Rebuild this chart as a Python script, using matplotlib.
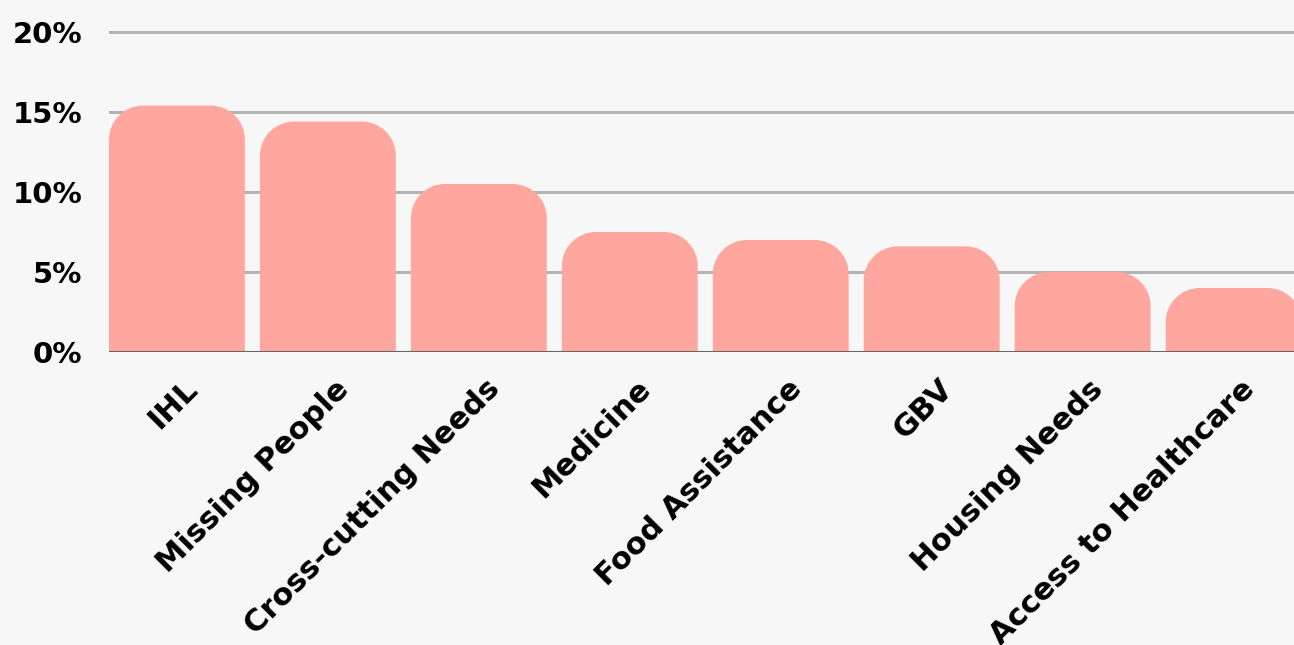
import numpy as np
import matplotlib.pyplot as plt
import matplotlib.transforms as mtransforms
from matplotlib.path import Path
from matplotlib.patches import PathPatch

# data
categories = ['IHL', 'Missing People', 'Cross-cutting Needs', 'Medicine',
              'Food Assistance', 'GBV', 'Housing Needs', 'Access to Healthcare']
values = [15.4, 14.4, 10.5, 7.5, 7.0, 6.6, 5.0, 4.0]
yticks = [0, 5, 10, 15, 20]
ytick_labels = ['0%', '5%', '10%', '15%', '20%']

bg = '#f7f7f7'
bar_color = '#ffa69e'
width = 0.9

fig = plt.figure(figsize=(12.94, 6.45), dpi=100, facecolor=bg)
ax = fig.add_axes([109 / 1294, 1 - 352 / 645, 1 - 109 / 1294, (352 - 28.8) / 645])
ax.set_facecolor(bg)
ax.set_xlim(-0.45, 7.40)
ax.set_ylim(0, 20.2)

# pixel -> data scale, so the top corners stay round
px_x = 7.85 / 1185
px_y = 20.2 / (352 - 28.8)
r_px = 34
rx, ry = r_px * px_x, r_px * px_y
k = 0.5523  # bezier circle constant


def top_rounded_bar(x0, w, h):
    x1 = x0 + w
    verts = [(x0, 0), (x0, h - ry),
             (x0, h - ry + k * ry), (x0 + rx - k * rx, h), (x0 + rx, h),
             (x1 - rx, h),
             (x1 - rx + k * rx, h), (x1, h - ry + k * ry), (x1, h - ry),
             (x1, 0), (x0, 0)]
    codes = [Path.MOVETO, Path.LINETO,
             Path.CURVE4, Path.CURVE4, Path.CURVE4,
             Path.LINETO,
             Path.CURVE4, Path.CURVE4, Path.CURVE4,
             Path.LINETO, Path.CLOSEPOLY]
    return Path(verts, codes)


x = np.arange(len(categories))
bars = ax.bar(x, values, width=width, color=bar_color, zorder=2)
# swap each bar for one with rounded top corners
for b in bars:
    b.set_visible(False)
    ax.add_patch(PathPatch(top_rounded_bar(b.get_x(), b.get_width(), b.get_height()),
                           facecolor=bar_color, edgecolor='none', zorder=2))

for t in yticks[1:]:
    ax.axhline(t, color='#b3b3b3', linewidth=2.2, zorder=1)
ax.axhline(0, color='#666666', linewidth=2.2, zorder=3)

for s in ax.spines.values():
    s.set_visible(False)

ax.set_yticks(yticks)
ax.set_yticklabels(ytick_labels, fontsize=21, fontweight='bold')
ax.tick_params(axis='y', length=0, pad=19)
ax.set_xticks(x)
ax.set_xticklabels(categories, fontsize=22, fontweight='bold', rotation=45,
                   ha='right', va='top', rotation_mode='anchor')
ax.tick_params(axis='x', length=0, pad=16)
shift = mtransforms.ScaledTranslation(6 / 100, 0, fig.dpi_scale_trans)
for lab in ax.get_xticklabels():
    lab.set_transform(lab.get_transform() + shift)

fig.savefig('out.png', dpi=100, facecolor=bg)
